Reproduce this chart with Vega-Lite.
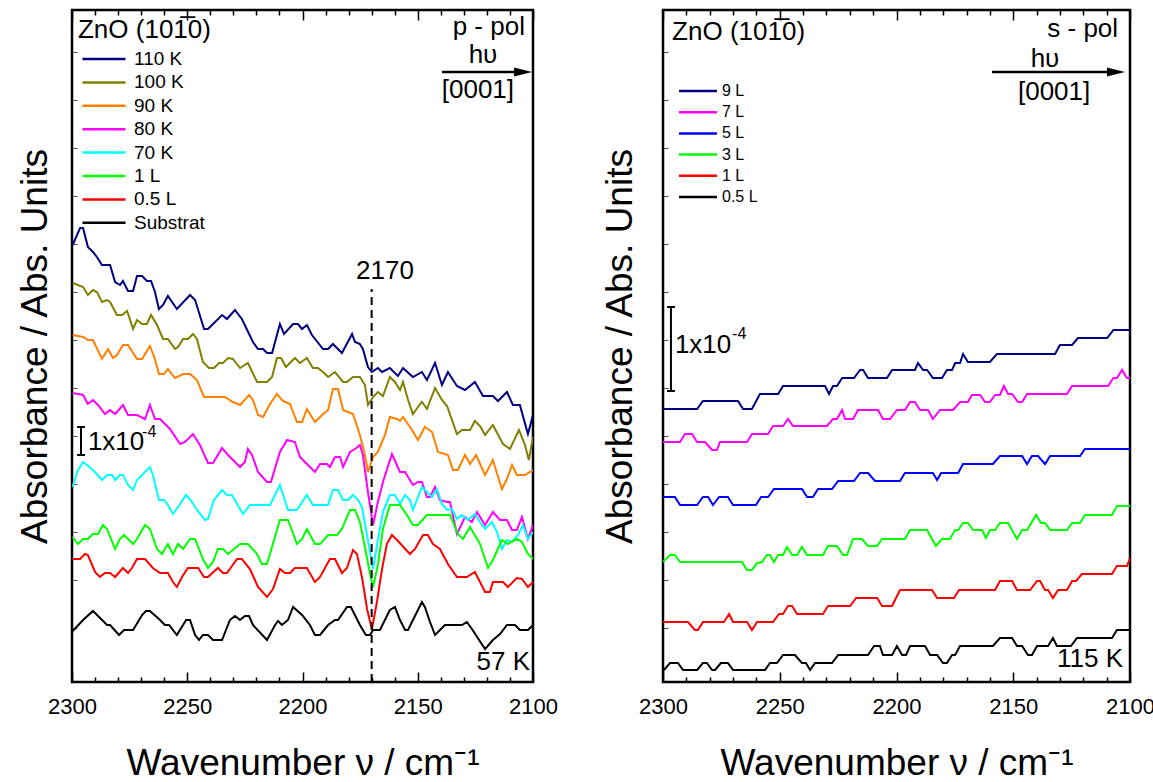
{
"$schema": "https://vega.github.io/schema/vega-lite/v6.json",
"background": "white",
"padding": {"left": 15, "top": 8, "right": 0, "bottom": 0},
"config": {"font": "Liberation Sans", "view": {"stroke": "black", "strokeWidth": 2.5}},
"spacing": 41,
"resolve": {"scale": {"color": "independent"}, "legend": {"color": "independent"}},
"datasets": {
"pL": [
{"s":"110 K","w":2299.7,"a":437},{"s":"110 K","w":2296.5,"a":454},{"s":"110 K","w":2295.2,"a":454},{"s":"110 K","w":2293.1,"a":435},{"s":"110 K","w":2290.9,"a":430},{"s":"110 K","w":2289.2,"a":425},{"s":"110 K","w":2287.0,"a":417},{"s":"110 K","w":2283.5,"a":417},{"s":"110 K","w":2281.3,"a":400},{"s":"110 K","w":2279.2,"a":397},{"s":"110 K","w":2277.9,"a":401},{"s":"110 K","w":2275.7,"a":391},{"s":"110 K","w":2273.5,"a":391},{"s":"110 K","w":2271.8,"a":406},{"s":"110 K","w":2269.6,"a":406},{"s":"110 K","w":2267.5,"a":401},{"s":"110 K","w":2265.7,"a":401},{"s":"110 K","w":2264.0,"a":390},{"s":"110 K","w":2262.3,"a":373},{"s":"110 K","w":2260.5,"a":377},{"s":"110 K","w":2258.4,"a":386},{"s":"110 K","w":2254.5,"a":373},{"s":"110 K","w":2248.8,"a":387},{"s":"110 K","w":2246.6,"a":382},{"s":"110 K","w":2242.7,"a":353},{"s":"110 K","w":2241.0,"a":353},{"s":"110 K","w":2234.9,"a":367},{"s":"110 K","w":2232.8,"a":363},{"s":"110 K","w":2229.3,"a":372},{"s":"110 K","w":2226.3,"a":363},{"s":"110 K","w":2221.5,"a":340},{"s":"110 K","w":2219.3,"a":333},{"s":"110 K","w":2217.1,"a":333},{"s":"110 K","w":2215.4,"a":329},{"s":"110 K","w":2213.2,"a":329},{"s":"110 K","w":2209.8,"a":358},{"s":"110 K","w":2208.0,"a":348},{"s":"110 K","w":2204.1,"a":358},{"s":"110 K","w":2202.0,"a":358},{"s":"110 K","w":2200.2,"a":353},{"s":"110 K","w":2198.1,"a":357},{"s":"110 K","w":2195.9,"a":347},{"s":"110 K","w":2191.1,"a":333},{"s":"110 K","w":2188.9,"a":333},{"s":"110 K","w":2186.8,"a":338},{"s":"110 K","w":2182.9,"a":329},{"s":"110 K","w":2178.5,"a":348},{"s":"110 K","w":2177.2,"a":340},{"s":"110 K","w":2175.1,"a":338},{"s":"110 K","w":2173.8,"a":333},{"s":"110 K","w":2171.6,"a":315},{"s":"110 K","w":2169.9,"a":310},{"s":"110 K","w":2167.3,"a":314},{"s":"110 K","w":2165.5,"a":310},{"s":"110 K","w":2162.1,"a":314},{"s":"110 K","w":2158.6,"a":306},{"s":"110 K","w":2156.4,"a":314},{"s":"110 K","w":2152.1,"a":305},{"s":"110 K","w":2148.2,"a":310},{"s":"110 K","w":2146.0,"a":302},{"s":"110 K","w":2142.5,"a":319},{"s":"110 K","w":2139.5,"a":297},{"s":"110 K","w":2136.9,"a":310},{"s":"110 K","w":2133.0,"a":296},{"s":"110 K","w":2129.5,"a":292},{"s":"110 K","w":2125.2,"a":300},{"s":"110 K","w":2121.7,"a":286},{"s":"110 K","w":2117.4,"a":286},{"s":"110 K","w":2115.2,"a":281},{"s":"110 K","w":2111.3,"a":290},{"s":"110 K","w":2108.7,"a":277},{"s":"110 K","w":2105.7,"a":277},{"s":"110 K","w":2102.2,"a":248},{"s":"110 K","w":2100.0,"a":267},
{"s":"100 K","w":2299.7,"a":399},{"s":"100 K","w":2295.2,"a":395},{"s":"100 K","w":2293.1,"a":387},{"s":"100 K","w":2290.9,"a":392},{"s":"100 K","w":2289.2,"a":390},{"s":"100 K","w":2287.0,"a":380},{"s":"100 K","w":2284.8,"a":382},{"s":"100 K","w":2283.5,"a":380},{"s":"100 K","w":2280.5,"a":367},{"s":"100 K","w":2278.3,"a":367},{"s":"100 K","w":2276.1,"a":371},{"s":"100 K","w":2273.5,"a":353},{"s":"100 K","w":2271.8,"a":362},{"s":"100 K","w":2269.6,"a":358},{"s":"100 K","w":2267.5,"a":358},{"s":"100 K","w":2265.7,"a":367},{"s":"100 K","w":2263.1,"a":357},{"s":"100 K","w":2260.5,"a":343},{"s":"100 K","w":2258.4,"a":343},{"s":"100 K","w":2255.3,"a":333},{"s":"100 K","w":2254.0,"a":335},{"s":"100 K","w":2251.8,"a":343},{"s":"100 K","w":2249.7,"a":343},{"s":"100 K","w":2247.5,"a":348},{"s":"100 K","w":2245.8,"a":343},{"s":"100 K","w":2243.2,"a":320},{"s":"100 K","w":2240.6,"a":314},{"s":"100 K","w":2238.4,"a":314},{"s":"100 K","w":2236.2,"a":319},{"s":"100 K","w":2234.5,"a":319},{"s":"100 K","w":2232.3,"a":324},{"s":"100 K","w":2230.2,"a":323},{"s":"100 K","w":2227.1,"a":314},{"s":"100 K","w":2223.7,"a":319},{"s":"100 K","w":2219.7,"a":300},{"s":"100 K","w":2215.4,"a":300},{"s":"100 K","w":2213.2,"a":305},{"s":"100 K","w":2211.1,"a":324},{"s":"100 K","w":2209.3,"a":324},{"s":"100 K","w":2207.2,"a":315},{"s":"100 K","w":2203.3,"a":324},{"s":"100 K","w":2201.1,"a":319},{"s":"100 K","w":2198.1,"a":324},{"s":"100 K","w":2195.5,"a":314},{"s":"100 K","w":2193.3,"a":314},{"s":"100 K","w":2191.1,"a":310},{"s":"100 K","w":2188.9,"a":305},{"s":"100 K","w":2185.9,"a":310},{"s":"100 K","w":2182.4,"a":300},{"s":"100 K","w":2180.7,"a":300},{"s":"100 K","w":2178.1,"a":305},{"s":"100 K","w":2175.1,"a":305},{"s":"100 K","w":2172.9,"a":297},{"s":"100 K","w":2171.6,"a":277},{"s":"100 K","w":2169.4,"a":285},{"s":"100 K","w":2167.3,"a":290},{"s":"100 K","w":2165.1,"a":286},{"s":"100 K","w":2162.1,"a":305},{"s":"100 K","w":2159.9,"a":300},{"s":"100 K","w":2157.7,"a":292},{"s":"100 K","w":2156.4,"a":300},{"s":"100 K","w":2154.2,"a":282},{"s":"100 K","w":2152.1,"a":268},{"s":"100 K","w":2149.9,"a":275},{"s":"100 K","w":2148.2,"a":280},{"s":"100 K","w":2146.0,"a":273},{"s":"100 K","w":2142.5,"a":294},{"s":"100 K","w":2139.5,"a":282},{"s":"100 K","w":2137.3,"a":276},{"s":"100 K","w":2133.0,"a":248},{"s":"100 K","w":2130.8,"a":252},{"s":"100 K","w":2127.3,"a":252},{"s":"100 K","w":2125.2,"a":261},{"s":"100 K","w":2123.0,"a":256},{"s":"100 K","w":2120.8,"a":247},{"s":"100 K","w":2117.4,"a":257},{"s":"100 K","w":2113.0,"a":238},{"s":"100 K","w":2110.0,"a":233},{"s":"100 K","w":2106.1,"a":252},{"s":"100 K","w":2103.5,"a":237},{"s":"100 K","w":2101.8,"a":222},{"s":"100 K","w":2100.0,"a":245},
{"s":"90 K","w":2299.7,"a":347},{"s":"90 K","w":2295.2,"a":345},{"s":"90 K","w":2293.1,"a":342},{"s":"90 K","w":2290.9,"a":342},{"s":"90 K","w":2287.0,"a":323},{"s":"90 K","w":2284.4,"a":333},{"s":"90 K","w":2282.2,"a":324},{"s":"90 K","w":2280.5,"a":327},{"s":"90 K","w":2277.9,"a":337},{"s":"90 K","w":2275.7,"a":337},{"s":"90 K","w":2271.8,"a":323},{"s":"90 K","w":2269.6,"a":323},{"s":"90 K","w":2266.2,"a":336},{"s":"90 K","w":2264.0,"a":323},{"s":"90 K","w":2262.3,"a":308},{"s":"90 K","w":2260.1,"a":308},{"s":"90 K","w":2258.4,"a":313},{"s":"90 K","w":2255.3,"a":304},{"s":"90 K","w":2251.8,"a":308},{"s":"90 K","w":2248.8,"a":308},{"s":"90 K","w":2245.8,"a":302},{"s":"90 K","w":2242.7,"a":285},{"s":"90 K","w":2233.6,"a":285},{"s":"90 K","w":2230.2,"a":280},{"s":"90 K","w":2227.1,"a":277},{"s":"90 K","w":2223.2,"a":287},{"s":"90 K","w":2221.5,"a":282},{"s":"90 K","w":2219.3,"a":267},{"s":"90 K","w":2217.1,"a":265},{"s":"90 K","w":2214.1,"a":278},{"s":"90 K","w":2211.1,"a":288},{"s":"90 K","w":2208.5,"a":281},{"s":"90 K","w":2205.4,"a":278},{"s":"90 K","w":2202.4,"a":260},{"s":"90 K","w":2200.2,"a":260},{"s":"90 K","w":2198.1,"a":273},{"s":"90 K","w":2194.6,"a":260},{"s":"90 K","w":2191.5,"a":267},{"s":"90 K","w":2188.9,"a":272},{"s":"90 K","w":2186.8,"a":293},{"s":"90 K","w":2184.6,"a":293},{"s":"90 K","w":2182.4,"a":272},{"s":"90 K","w":2178.1,"a":268},{"s":"90 K","w":2175.1,"a":247},{"s":"90 K","w":2172.9,"a":227},{"s":"90 K","w":2171.6,"a":210},{"s":"90 K","w":2169.4,"a":225},{"s":"90 K","w":2167.3,"a":230},{"s":"90 K","w":2165.5,"a":240},{"s":"90 K","w":2164.2,"a":247},{"s":"90 K","w":2162.1,"a":265},{"s":"90 K","w":2159.0,"a":263},{"s":"90 K","w":2157.7,"a":261},{"s":"90 K","w":2156.4,"a":265},{"s":"90 K","w":2152.5,"a":252},{"s":"90 K","w":2149.9,"a":242},{"s":"90 K","w":2146.9,"a":255},{"s":"90 K","w":2143.8,"a":250},{"s":"90 K","w":2141.2,"a":230},{"s":"90 K","w":2136.9,"a":227},{"s":"90 K","w":2134.7,"a":212},{"s":"90 K","w":2132.6,"a":212},{"s":"90 K","w":2129.5,"a":227},{"s":"90 K","w":2127.3,"a":218},{"s":"90 K","w":2124.7,"a":227},{"s":"90 K","w":2120.8,"a":207},{"s":"90 K","w":2117.4,"a":222},{"s":"90 K","w":2113.5,"a":193},{"s":"90 K","w":2111.3,"a":203},{"s":"90 K","w":2109.1,"a":217},{"s":"90 K","w":2107.0,"a":207},{"s":"90 K","w":2103.5,"a":207},{"s":"90 K","w":2100.0,"a":212},
{"s":"80 K","w":2299.7,"a":289},{"s":"80 K","w":2295.2,"a":287},{"s":"80 K","w":2293.1,"a":278},{"s":"80 K","w":2290.9,"a":282},{"s":"80 K","w":2288.7,"a":277},{"s":"80 K","w":2285.7,"a":268},{"s":"80 K","w":2283.5,"a":272},{"s":"80 K","w":2281.3,"a":268},{"s":"80 K","w":2277.9,"a":277},{"s":"80 K","w":2275.7,"a":267},{"s":"80 K","w":2271.8,"a":267},{"s":"80 K","w":2268.3,"a":263},{"s":"80 K","w":2266.2,"a":277},{"s":"80 K","w":2264.0,"a":263},{"s":"80 K","w":2261.8,"a":263},{"s":"80 K","w":2257.5,"a":253},{"s":"80 K","w":2253.1,"a":238},{"s":"80 K","w":2251.0,"a":240},{"s":"80 K","w":2247.5,"a":248},{"s":"80 K","w":2244.5,"a":237},{"s":"80 K","w":2241.0,"a":219},{"s":"80 K","w":2238.8,"a":219},{"s":"80 K","w":2234.9,"a":234},{"s":"80 K","w":2231.5,"a":225},{"s":"80 K","w":2227.1,"a":215},{"s":"80 K","w":2225.0,"a":220},{"s":"80 K","w":2223.7,"a":233},{"s":"80 K","w":2221.9,"a":227},{"s":"80 K","w":2219.3,"a":210},{"s":"80 K","w":2215.4,"a":200},{"s":"80 K","w":2213.7,"a":200},{"s":"80 K","w":2209.8,"a":230},{"s":"80 K","w":2206.7,"a":242},{"s":"80 K","w":2203.3,"a":240},{"s":"80 K","w":2201.1,"a":225},{"s":"80 K","w":2198.1,"a":218},{"s":"80 K","w":2194.6,"a":210},{"s":"80 K","w":2192.4,"a":218},{"s":"80 K","w":2189.4,"a":218},{"s":"80 K","w":2188.1,"a":215},{"s":"80 K","w":2185.9,"a":225},{"s":"80 K","w":2183.7,"a":225},{"s":"80 K","w":2182.4,"a":215},{"s":"80 K","w":2179.4,"a":230},{"s":"80 K","w":2177.2,"a":233},{"s":"80 K","w":2175.1,"a":237},{"s":"80 K","w":2173.8,"a":227},{"s":"80 K","w":2171.6,"a":190},{"s":"80 K","w":2169.4,"a":157},{"s":"80 K","w":2167.3,"a":180},{"s":"80 K","w":2165.1,"a":200},{"s":"80 K","w":2161.2,"a":228},{"s":"80 K","w":2157.7,"a":210},{"s":"80 K","w":2155.5,"a":210},{"s":"80 K","w":2152.1,"a":197},{"s":"80 K","w":2149.9,"a":200},{"s":"80 K","w":2148.2,"a":200},{"s":"80 K","w":2146.0,"a":185},{"s":"80 K","w":2144.7,"a":185},{"s":"80 K","w":2142.5,"a":195},{"s":"80 K","w":2140.4,"a":182},{"s":"80 K","w":2137.3,"a":180},{"s":"80 K","w":2136.0,"a":180},{"s":"80 K","w":2133.0,"a":148},{"s":"80 K","w":2129.5,"a":165},{"s":"80 K","w":2126.5,"a":160},{"s":"80 K","w":2124.3,"a":170},{"s":"80 K","w":2120.8,"a":157},{"s":"80 K","w":2117.4,"a":170},{"s":"80 K","w":2114.3,"a":162},{"s":"80 K","w":2111.3,"a":162},{"s":"80 K","w":2109.1,"a":152},{"s":"80 K","w":2107.0,"a":152},{"s":"80 K","w":2104.8,"a":165},{"s":"80 K","w":2102.2,"a":143},{"s":"80 K","w":2100.0,"a":157},
{"s":"70 K","w":2299.7,"a":195},{"s":"70 K","w":2297.8,"a":210},{"s":"70 K","w":2295.2,"a":220},{"s":"70 K","w":2290.9,"a":212},{"s":"70 K","w":2287.0,"a":202},{"s":"70 K","w":2284.8,"a":207},{"s":"70 K","w":2282.6,"a":207},{"s":"70 K","w":2281.3,"a":202},{"s":"70 K","w":2279.2,"a":207},{"s":"70 K","w":2277.9,"a":207},{"s":"70 K","w":2275.7,"a":197},{"s":"70 K","w":2273.5,"a":192},{"s":"70 K","w":2271.8,"a":202},{"s":"70 K","w":2266.2,"a":215},{"s":"70 K","w":2264.9,"a":207},{"s":"70 K","w":2262.3,"a":182},{"s":"70 K","w":2260.1,"a":182},{"s":"70 K","w":2258.4,"a":177},{"s":"70 K","w":2256.2,"a":168},{"s":"70 K","w":2254.0,"a":175},{"s":"70 K","w":2250.5,"a":187},{"s":"70 K","w":2247.9,"a":180},{"s":"70 K","w":2245.8,"a":172},{"s":"70 K","w":2242.3,"a":162},{"s":"70 K","w":2241.0,"a":163},{"s":"70 K","w":2238.4,"a":182},{"s":"70 K","w":2234.9,"a":192},{"s":"70 K","w":2232.8,"a":187},{"s":"70 K","w":2230.6,"a":187},{"s":"70 K","w":2228.4,"a":178},{"s":"70 K","w":2225.8,"a":168},{"s":"70 K","w":2222.8,"a":177},{"s":"70 K","w":2214.1,"a":177},{"s":"70 K","w":2209.8,"a":197},{"s":"70 K","w":2206.3,"a":172},{"s":"70 K","w":2202.4,"a":172},{"s":"70 K","w":2198.1,"a":187},{"s":"70 K","w":2195.5,"a":177},{"s":"70 K","w":2188.9,"a":177},{"s":"70 K","w":2186.8,"a":192},{"s":"70 K","w":2184.6,"a":192},{"s":"70 K","w":2182.4,"a":182},{"s":"70 K","w":2180.3,"a":182},{"s":"70 K","w":2178.1,"a":187},{"s":"70 K","w":2175.9,"a":182},{"s":"70 K","w":2174.2,"a":175},{"s":"70 K","w":2172.0,"a":147},{"s":"70 K","w":2169.4,"a":113},{"s":"70 K","w":2167.7,"a":137},{"s":"70 K","w":2165.1,"a":170},{"s":"70 K","w":2162.1,"a":187},{"s":"70 K","w":2159.9,"a":187},{"s":"70 K","w":2157.7,"a":178},{"s":"70 K","w":2155.5,"a":187},{"s":"70 K","w":2153.4,"a":182},{"s":"70 K","w":2152.1,"a":172},{"s":"70 K","w":2148.2,"a":195},{"s":"70 K","w":2146.0,"a":190},{"s":"70 K","w":2143.8,"a":185},{"s":"70 K","w":2141.7,"a":193},{"s":"70 K","w":2139.5,"a":178},{"s":"70 K","w":2137.3,"a":172},{"s":"70 K","w":2135.2,"a":173},{"s":"70 K","w":2133.0,"a":163},{"s":"70 K","w":2130.8,"a":167},{"s":"70 K","w":2128.2,"a":162},{"s":"70 K","w":2125.2,"a":168},{"s":"70 K","w":2123.0,"a":160},{"s":"70 K","w":2120.8,"a":153},{"s":"70 K","w":2117.8,"a":160},{"s":"70 K","w":2115.6,"a":150},{"s":"70 K","w":2113.5,"a":133},{"s":"70 K","w":2111.3,"a":142},{"s":"70 K","w":2109.1,"a":140},{"s":"70 K","w":2106.5,"a":147},{"s":"70 K","w":2104.4,"a":157},{"s":"70 K","w":2102.2,"a":143},{"s":"70 K","w":2100.0,"a":150},
{"s":"1 L","w":2299.7,"a":145},{"s":"1 L","w":2297.4,"a":138},{"s":"1 L","w":2295.2,"a":143},{"s":"1 L","w":2293.1,"a":143},{"s":"1 L","w":2290.9,"a":148},{"s":"1 L","w":2288.7,"a":148},{"s":"1 L","w":2286.6,"a":157},{"s":"1 L","w":2284.8,"a":153},{"s":"1 L","w":2281.3,"a":133},{"s":"1 L","w":2279.2,"a":143},{"s":"1 L","w":2277.4,"a":147},{"s":"1 L","w":2273.5,"a":138},{"s":"1 L","w":2271.8,"a":143},{"s":"1 L","w":2268.3,"a":157},{"s":"1 L","w":2266.2,"a":153},{"s":"1 L","w":2263.1,"a":133},{"s":"1 L","w":2261.0,"a":128},{"s":"1 L","w":2258.4,"a":138},{"s":"1 L","w":2256.2,"a":128},{"s":"1 L","w":2254.0,"a":138},{"s":"1 L","w":2251.8,"a":133},{"s":"1 L","w":2248.8,"a":143},{"s":"1 L","w":2246.6,"a":143},{"s":"1 L","w":2243.2,"a":123},{"s":"1 L","w":2241.0,"a":114},{"s":"1 L","w":2238.8,"a":120},{"s":"1 L","w":2236.7,"a":133},{"s":"1 L","w":2234.5,"a":133},{"s":"1 L","w":2232.3,"a":128},{"s":"1 L","w":2227.1,"a":138},{"s":"1 L","w":2223.7,"a":138},{"s":"1 L","w":2219.7,"a":128},{"s":"1 L","w":2217.6,"a":118},{"s":"1 L","w":2215.4,"a":118},{"s":"1 L","w":2209.8,"a":162},{"s":"1 L","w":2206.3,"a":162},{"s":"1 L","w":2202.4,"a":138},{"s":"1 L","w":2200.2,"a":143},{"s":"1 L","w":2198.1,"a":153},{"s":"1 L","w":2194.6,"a":138},{"s":"1 L","w":2192.4,"a":138},{"s":"1 L","w":2188.9,"a":147},{"s":"1 L","w":2185.0,"a":147},{"s":"1 L","w":2182.9,"a":153},{"s":"1 L","w":2179.4,"a":172},{"s":"1 L","w":2177.2,"a":172},{"s":"1 L","w":2175.1,"a":160},{"s":"1 L","w":2172.5,"a":130},{"s":"1 L","w":2170.7,"a":108},{"s":"1 L","w":2169.4,"a":95},{"s":"1 L","w":2167.3,"a":117},{"s":"1 L","w":2165.1,"a":153},{"s":"1 L","w":2162.1,"a":177},{"s":"1 L","w":2157.7,"a":177},{"s":"1 L","w":2154.7,"a":167},{"s":"1 L","w":2152.1,"a":157},{"s":"1 L","w":2149.9,"a":157},{"s":"1 L","w":2146.0,"a":167},{"s":"1 L","w":2136.0,"a":167},{"s":"1 L","w":2132.6,"a":148},{"s":"1 L","w":2130.4,"a":143},{"s":"1 L","w":2127.3,"a":155},{"s":"1 L","w":2123.0,"a":138},{"s":"1 L","w":2119.5,"a":114},{"s":"1 L","w":2117.4,"a":122},{"s":"1 L","w":2113.5,"a":142},{"s":"1 L","w":2110.9,"a":138},{"s":"1 L","w":2107.0,"a":143},{"s":"1 L","w":2104.8,"a":140},{"s":"1 L","w":2102.2,"a":128},{"s":"1 L","w":2100.0,"a":123},
{"s":"0.5 L","w":2299.7,"a":123},{"s":"0.5 L","w":2296.5,"a":123},{"s":"0.5 L","w":2294.4,"a":128},{"s":"0.5 L","w":2293.1,"a":127},{"s":"0.5 L","w":2290.0,"a":110},{"s":"0.5 L","w":2287.9,"a":105},{"s":"0.5 L","w":2285.7,"a":109},{"s":"0.5 L","w":2283.5,"a":109},{"s":"0.5 L","w":2281.3,"a":105},{"s":"0.5 L","w":2277.9,"a":114},{"s":"0.5 L","w":2275.7,"a":109},{"s":"0.5 L","w":2274.0,"a":114},{"s":"0.5 L","w":2271.8,"a":123},{"s":"0.5 L","w":2268.3,"a":123},{"s":"0.5 L","w":2264.9,"a":114},{"s":"0.5 L","w":2261.8,"a":109},{"s":"0.5 L","w":2258.4,"a":109},{"s":"0.5 L","w":2256.2,"a":100},{"s":"0.5 L","w":2254.5,"a":95},{"s":"0.5 L","w":2252.3,"a":105},{"s":"0.5 L","w":2249.7,"a":114},{"s":"0.5 L","w":2245.3,"a":114},{"s":"0.5 L","w":2242.7,"a":105},{"s":"0.5 L","w":2241.0,"a":105},{"s":"0.5 L","w":2236.7,"a":114},{"s":"0.5 L","w":2234.5,"a":109},{"s":"0.5 L","w":2232.8,"a":109},{"s":"0.5 L","w":2228.4,"a":123},{"s":"0.5 L","w":2226.3,"a":123},{"s":"0.5 L","w":2222.8,"a":113},{"s":"0.5 L","w":2219.3,"a":95},{"s":"0.5 L","w":2215.4,"a":85},{"s":"0.5 L","w":2212.8,"a":93},{"s":"0.5 L","w":2209.8,"a":113},{"s":"0.5 L","w":2207.6,"a":109},{"s":"0.5 L","w":2205.4,"a":109},{"s":"0.5 L","w":2203.3,"a":114},{"s":"0.5 L","w":2198.1,"a":114},{"s":"0.5 L","w":2194.6,"a":100},{"s":"0.5 L","w":2192.4,"a":105},{"s":"0.5 L","w":2188.1,"a":123},{"s":"0.5 L","w":2185.9,"a":123},{"s":"0.5 L","w":2182.9,"a":109},{"s":"0.5 L","w":2180.7,"a":114},{"s":"0.5 L","w":2178.1,"a":132},{"s":"0.5 L","w":2176.4,"a":128},{"s":"0.5 L","w":2174.2,"a":105},{"s":"0.5 L","w":2172.0,"a":73},{"s":"0.5 L","w":2169.9,"a":53},{"s":"0.5 L","w":2167.7,"a":80},{"s":"0.5 L","w":2165.5,"a":113},{"s":"0.5 L","w":2163.4,"a":138},{"s":"0.5 L","w":2161.2,"a":147},{"s":"0.5 L","w":2159.0,"a":142},{"s":"0.5 L","w":2153.4,"a":128},{"s":"0.5 L","w":2151.2,"a":133},{"s":"0.5 L","w":2147.7,"a":147},{"s":"0.5 L","w":2145.6,"a":147},{"s":"0.5 L","w":2143.4,"a":138},{"s":"0.5 L","w":2140.4,"a":133},{"s":"0.5 L","w":2136.9,"a":118},{"s":"0.5 L","w":2133.0,"a":105},{"s":"0.5 L","w":2128.7,"a":105},{"s":"0.5 L","w":2125.2,"a":110},{"s":"0.5 L","w":2120.8,"a":90},{"s":"0.5 L","w":2118.7,"a":90},{"s":"0.5 L","w":2117.4,"a":100},{"s":"0.5 L","w":2113.0,"a":100},{"s":"0.5 L","w":2110.9,"a":95},{"s":"0.5 L","w":2107.0,"a":104},{"s":"0.5 L","w":2104.8,"a":103},{"s":"0.5 L","w":2102.2,"a":95},{"s":"0.5 L","w":2100.0,"a":100},
{"s":"Substrat","w":2299.7,"a":51},{"s":"Substrat","w":2295.2,"a":62},{"s":"Substrat","w":2290.9,"a":71},{"s":"Substrat","w":2284.8,"a":57},{"s":"Substrat","w":2283.5,"a":57},{"s":"Substrat","w":2279.6,"a":47},{"s":"Substrat","w":2277.4,"a":52},{"s":"Substrat","w":2273.5,"a":52},{"s":"Substrat","w":2269.6,"a":67},{"s":"Substrat","w":2267.9,"a":71},{"s":"Substrat","w":2266.2,"a":71},{"s":"Substrat","w":2261.8,"a":62},{"s":"Substrat","w":2259.7,"a":57},{"s":"Substrat","w":2257.9,"a":57},{"s":"Substrat","w":2254.5,"a":47},{"s":"Substrat","w":2250.5,"a":62},{"s":"Substrat","w":2248.8,"a":62},{"s":"Substrat","w":2246.6,"a":47},{"s":"Substrat","w":2244.9,"a":42},{"s":"Substrat","w":2243.2,"a":47},{"s":"Substrat","w":2241.0,"a":47},{"s":"Substrat","w":2238.8,"a":42},{"s":"Substrat","w":2234.9,"a":42},{"s":"Substrat","w":2231.5,"a":62},{"s":"Substrat","w":2229.3,"a":66},{"s":"Substrat","w":2227.1,"a":62},{"s":"Substrat","w":2225.0,"a":66},{"s":"Substrat","w":2223.2,"a":66},{"s":"Substrat","w":2221.5,"a":57},{"s":"Substrat","w":2215.4,"a":42},{"s":"Substrat","w":2211.9,"a":57},{"s":"Substrat","w":2210.6,"a":61},{"s":"Substrat","w":2208.9,"a":57},{"s":"Substrat","w":2206.3,"a":62},{"s":"Substrat","w":2204.1,"a":75},{"s":"Substrat","w":2200.2,"a":67},{"s":"Substrat","w":2196.8,"a":57},{"s":"Substrat","w":2194.6,"a":47},{"s":"Substrat","w":2192.4,"a":47},{"s":"Substrat","w":2188.9,"a":57},{"s":"Substrat","w":2185.9,"a":62},{"s":"Substrat","w":2184.6,"a":62},{"s":"Substrat","w":2180.7,"a":75},{"s":"Substrat","w":2179.0,"a":75},{"s":"Substrat","w":2175.1,"a":57},{"s":"Substrat","w":2172.5,"a":47},{"s":"Substrat","w":2170.7,"a":47},{"s":"Substrat","w":2169.4,"a":52},{"s":"Substrat","w":2166.4,"a":52},{"s":"Substrat","w":2162.1,"a":72},{"s":"Substrat","w":2159.9,"a":75},{"s":"Substrat","w":2157.7,"a":62},{"s":"Substrat","w":2155.5,"a":52},{"s":"Substrat","w":2154.2,"a":52},{"s":"Substrat","w":2152.1,"a":62},{"s":"Substrat","w":2148.2,"a":80},{"s":"Substrat","w":2146.9,"a":75},{"s":"Substrat","w":2144.7,"a":60},{"s":"Substrat","w":2142.5,"a":47},{"s":"Substrat","w":2138.2,"a":57},{"s":"Substrat","w":2130.8,"a":57},{"s":"Substrat","w":2128.7,"a":60},{"s":"Substrat","w":2126.5,"a":53},{"s":"Substrat","w":2120.8,"a":33},{"s":"Substrat","w":2117.4,"a":42},{"s":"Substrat","w":2114.3,"a":48},{"s":"Substrat","w":2111.3,"a":57},{"s":"Substrat","w":2107.8,"a":57},{"s":"Substrat","w":2105.7,"a":52},{"s":"Substrat","w":2102.2,"a":52},{"s":"Substrat","w":2100.0,"a":57}
],
"pR": [
{"s":"9 L","w":2300.0,"a":273},{"s":"9 L","w":2285.4,"a":273},{"s":"9 L","w":2282.9,"a":281},{"s":"9 L","w":2267.9,"a":281},{"s":"9 L","w":2265.7,"a":273},{"s":"9 L","w":2261.9,"a":273},{"s":"9 L","w":2258.5,"a":288},{"s":"9 L","w":2250.7,"a":288},{"s":"9 L","w":2248.6,"a":296},{"s":"9 L","w":2230.6,"a":296},{"s":"9 L","w":2228.9,"a":288},{"s":"9 L","w":2227.2,"a":296},{"s":"9 L","w":2225.5,"a":296},{"s":"9 L","w":2223.3,"a":304},{"s":"9 L","w":2218.2,"a":304},{"s":"9 L","w":2215.6,"a":312},{"s":"9 L","w":2214.3,"a":312},{"s":"9 L","w":2212.2,"a":304},{"s":"9 L","w":2204.1,"a":304},{"s":"9 L","w":2201.9,"a":312},{"s":"9 L","w":2192.1,"a":312},{"s":"9 L","w":2190.8,"a":319},{"s":"9 L","w":2188.6,"a":312},{"s":"9 L","w":2186.9,"a":312},{"s":"9 L","w":2184.4,"a":304},{"s":"9 L","w":2180.5,"a":304},{"s":"9 L","w":2178.4,"a":312},{"s":"9 L","w":2176.2,"a":312},{"s":"9 L","w":2174.9,"a":319},{"s":"9 L","w":2172.8,"a":319},{"s":"9 L","w":2171.5,"a":328},{"s":"9 L","w":2169.4,"a":320},{"s":"9 L","w":2160.0,"a":320},{"s":"9 L","w":2157.0,"a":328},{"s":"9 L","w":2132.1,"a":328},{"s":"9 L","w":2130.0,"a":337},{"s":"9 L","w":2124.8,"a":337},{"s":"9 L","w":2122.3,"a":344},{"s":"9 L","w":2109.8,"a":344},{"s":"9 L","w":2107.1,"a":352},{"s":"9 L","w":2100.0,"a":352},
{"s":"7 L","w":2300.0,"a":240},{"s":"7 L","w":2292.7,"a":240},{"s":"7 L","w":2290.6,"a":248},{"s":"7 L","w":2287.6,"a":248},{"s":"7 L","w":2285.4,"a":240},{"s":"7 L","w":2282.0,"a":240},{"s":"7 L","w":2279.0,"a":232},{"s":"7 L","w":2276.9,"a":232},{"s":"7 L","w":2275.6,"a":240},{"s":"7 L","w":2264.0,"a":240},{"s":"7 L","w":2261.9,"a":248},{"s":"7 L","w":2255.0,"a":248},{"s":"7 L","w":2252.9,"a":256},{"s":"7 L","w":2248.6,"a":256},{"s":"7 L","w":2246.5,"a":263},{"s":"7 L","w":2244.3,"a":256},{"s":"7 L","w":2229.8,"a":256},{"s":"7 L","w":2227.2,"a":263},{"s":"7 L","w":2225.5,"a":263},{"s":"7 L","w":2223.3,"a":272},{"s":"7 L","w":2222.0,"a":263},{"s":"7 L","w":2218.6,"a":263},{"s":"7 L","w":2216.5,"a":272},{"s":"7 L","w":2207.9,"a":272},{"s":"7 L","w":2205.8,"a":263},{"s":"7 L","w":2202.8,"a":263},{"s":"7 L","w":2199.8,"a":272},{"s":"7 L","w":2196.4,"a":272},{"s":"7 L","w":2194.2,"a":280},{"s":"7 L","w":2192.1,"a":280},{"s":"7 L","w":2190.0,"a":272},{"s":"7 L","w":2186.5,"a":272},{"s":"7 L","w":2184.4,"a":263},{"s":"7 L","w":2181.4,"a":272},{"s":"7 L","w":2175.8,"a":272},{"s":"7 L","w":2172.8,"a":280},{"s":"7 L","w":2169.4,"a":280},{"s":"7 L","w":2167.7,"a":287},{"s":"7 L","w":2164.2,"a":287},{"s":"7 L","w":2162.1,"a":280},{"s":"7 L","w":2160.0,"a":280},{"s":"7 L","w":2157.8,"a":287},{"s":"7 L","w":2155.7,"a":287},{"s":"7 L","w":2154.0,"a":296},{"s":"7 L","w":2152.2,"a":288},{"s":"7 L","w":2150.5,"a":288},{"s":"7 L","w":2148.0,"a":280},{"s":"7 L","w":2146.2,"a":280},{"s":"7 L","w":2144.1,"a":288},{"s":"7 L","w":2127.0,"a":288},{"s":"7 L","w":2124.8,"a":296},{"s":"7 L","w":2109.4,"a":296},{"s":"7 L","w":2107.1,"a":304},{"s":"7 L","w":2105.6,"a":304},{"s":"7 L","w":2103.4,"a":312},{"s":"7 L","w":2101.3,"a":304},{"s":"7 L","w":2100.0,"a":304},
{"s":"5 L","w":2300.0,"a":185},{"s":"5 L","w":2294.9,"a":185},{"s":"5 L","w":2292.7,"a":177},{"s":"5 L","w":2285.4,"a":177},{"s":"5 L","w":2282.9,"a":185},{"s":"5 L","w":2280.7,"a":185},{"s":"5 L","w":2278.6,"a":177},{"s":"5 L","w":2276.0,"a":185},{"s":"5 L","w":2272.2,"a":185},{"s":"5 L","w":2270.0,"a":177},{"s":"5 L","w":2260.2,"a":177},{"s":"5 L","w":2258.0,"a":185},{"s":"5 L","w":2255.0,"a":185},{"s":"5 L","w":2252.5,"a":193},{"s":"5 L","w":2240.5,"a":193},{"s":"5 L","w":2238.3,"a":185},{"s":"5 L","w":2235.8,"a":185},{"s":"5 L","w":2233.6,"a":193},{"s":"5 L","w":2227.6,"a":193},{"s":"5 L","w":2225.0,"a":201},{"s":"5 L","w":2218.2,"a":201},{"s":"5 L","w":2215.6,"a":209},{"s":"5 L","w":2212.2,"a":209},{"s":"5 L","w":2209.2,"a":201},{"s":"5 L","w":2198.5,"a":201},{"s":"5 L","w":2196.4,"a":209},{"s":"5 L","w":2184.4,"a":209},{"s":"5 L","w":2182.6,"a":202},{"s":"5 L","w":2180.9,"a":209},{"s":"5 L","w":2173.6,"a":209},{"s":"5 L","w":2171.5,"a":218},{"s":"5 L","w":2158.7,"a":218},{"s":"5 L","w":2155.7,"a":226},{"s":"5 L","w":2146.2,"a":226},{"s":"5 L","w":2144.1,"a":218},{"s":"5 L","w":2142.0,"a":226},{"s":"5 L","w":2139.4,"a":226},{"s":"5 L","w":2136.4,"a":218},{"s":"5 L","w":2134.2,"a":226},{"s":"5 L","w":2121.4,"a":226},{"s":"5 L","w":2119.3,"a":233},{"s":"5 L","w":2100.0,"a":233},
{"s":"3 L","w":2300.0,"a":120},{"s":"3 L","w":2297.0,"a":127},{"s":"3 L","w":2294.9,"a":127},{"s":"3 L","w":2292.7,"a":120},{"s":"3 L","w":2266.2,"a":120},{"s":"3 L","w":2264.0,"a":112},{"s":"3 L","w":2261.9,"a":112},{"s":"3 L","w":2259.7,"a":119},{"s":"3 L","w":2257.6,"a":120},{"s":"3 L","w":2255.5,"a":127},{"s":"3 L","w":2254.2,"a":127},{"s":"3 L","w":2252.5,"a":120},{"s":"3 L","w":2250.7,"a":127},{"s":"3 L","w":2248.6,"a":127},{"s":"3 L","w":2246.9,"a":135},{"s":"3 L","w":2244.7,"a":127},{"s":"3 L","w":2242.6,"a":127},{"s":"3 L","w":2240.5,"a":135},{"s":"3 L","w":2238.3,"a":127},{"s":"3 L","w":2231.5,"a":127},{"s":"3 L","w":2229.3,"a":136},{"s":"3 L","w":2225.5,"a":136},{"s":"3 L","w":2222.9,"a":127},{"s":"3 L","w":2221.2,"a":127},{"s":"3 L","w":2218.6,"a":143},{"s":"3 L","w":2214.8,"a":143},{"s":"3 L","w":2212.2,"a":136},{"s":"3 L","w":2208.3,"a":136},{"s":"3 L","w":2206.2,"a":143},{"s":"3 L","w":2196.4,"a":143},{"s":"3 L","w":2194.2,"a":152},{"s":"3 L","w":2186.9,"a":152},{"s":"3 L","w":2184.8,"a":143},{"s":"3 L","w":2183.1,"a":136},{"s":"3 L","w":2180.5,"a":143},{"s":"3 L","w":2177.1,"a":143},{"s":"3 L","w":2174.9,"a":152},{"s":"3 L","w":2173.6,"a":152},{"s":"3 L","w":2171.5,"a":159},{"s":"3 L","w":2169.4,"a":159},{"s":"3 L","w":2167.2,"a":152},{"s":"3 L","w":2163.4,"a":152},{"s":"3 L","w":2161.7,"a":144},{"s":"3 L","w":2160.0,"a":152},{"s":"3 L","w":2157.8,"a":152},{"s":"3 L","w":2155.7,"a":159},{"s":"3 L","w":2152.2,"a":159},{"s":"3 L","w":2148.4,"a":143},{"s":"3 L","w":2146.2,"a":152},{"s":"3 L","w":2144.1,"a":152},{"s":"3 L","w":2140.2,"a":167},{"s":"3 L","w":2138.1,"a":159},{"s":"3 L","w":2136.4,"a":159},{"s":"3 L","w":2134.2,"a":152},{"s":"3 L","w":2127.0,"a":152},{"s":"3 L","w":2124.8,"a":159},{"s":"3 L","w":2121.4,"a":159},{"s":"3 L","w":2119.3,"a":167},{"s":"3 L","w":2107.7,"a":167},{"s":"3 L","w":2105.6,"a":176},{"s":"3 L","w":2100.0,"a":176},
{"s":"1 L","w":2300.0,"a":60},{"s":"1 L","w":2289.3,"a":60},{"s":"1 L","w":2286.3,"a":52},{"s":"1 L","w":2285.0,"a":52},{"s":"1 L","w":2282.9,"a":60},{"s":"1 L","w":2273.9,"a":60},{"s":"1 L","w":2271.7,"a":68},{"s":"1 L","w":2270.0,"a":60},{"s":"1 L","w":2264.0,"a":60},{"s":"1 L","w":2261.9,"a":52},{"s":"1 L","w":2259.7,"a":60},{"s":"1 L","w":2252.9,"a":60},{"s":"1 L","w":2250.3,"a":68},{"s":"1 L","w":2248.6,"a":68},{"s":"1 L","w":2246.5,"a":76},{"s":"1 L","w":2244.7,"a":76},{"s":"1 L","w":2242.6,"a":68},{"s":"1 L","w":2231.5,"a":68},{"s":"1 L","w":2229.3,"a":76},{"s":"1 L","w":2219.9,"a":76},{"s":"1 L","w":2217.3,"a":84},{"s":"1 L","w":2208.3,"a":84},{"s":"1 L","w":2206.2,"a":76},{"s":"1 L","w":2201.9,"a":76},{"s":"1 L","w":2198.5,"a":92},{"s":"1 L","w":2184.8,"a":92},{"s":"1 L","w":2182.6,"a":84},{"s":"1 L","w":2175.4,"a":84},{"s":"1 L","w":2173.2,"a":92},{"s":"1 L","w":2157.8,"a":92},{"s":"1 L","w":2155.7,"a":101},{"s":"1 L","w":2150.5,"a":101},{"s":"1 L","w":2148.4,"a":92},{"s":"1 L","w":2142.8,"a":92},{"s":"1 L","w":2139.8,"a":101},{"s":"1 L","w":2138.5,"a":101},{"s":"1 L","w":2136.4,"a":92},{"s":"1 L","w":2135.1,"a":92},{"s":"1 L","w":2133.0,"a":84},{"s":"1 L","w":2130.8,"a":92},{"s":"1 L","w":2127.0,"a":92},{"s":"1 L","w":2124.8,"a":101},{"s":"1 L","w":2123.1,"a":101},{"s":"1 L","w":2120.6,"a":108},{"s":"1 L","w":2107.7,"a":108},{"s":"1 L","w":2105.6,"a":116},{"s":"1 L","w":2101.3,"a":116},{"s":"1 L","w":2100.0,"a":124},
{"s":"0.5 L","w":2300.0,"a":11},{"s":"0.5 L","w":2297.0,"a":19},{"s":"0.5 L","w":2293.6,"a":19},{"s":"0.5 L","w":2291.4,"a":12},{"s":"0.5 L","w":2285.4,"a":12},{"s":"0.5 L","w":2282.9,"a":19},{"s":"0.5 L","w":2281.2,"a":19},{"s":"0.5 L","w":2279.0,"a":12},{"s":"0.5 L","w":2277.7,"a":12},{"s":"0.5 L","w":2275.2,"a":19},{"s":"0.5 L","w":2272.2,"a":19},{"s":"0.5 L","w":2270.0,"a":12},{"s":"0.5 L","w":2256.3,"a":12},{"s":"0.5 L","w":2254.2,"a":19},{"s":"0.5 L","w":2251.2,"a":19},{"s":"0.5 L","w":2248.6,"a":27},{"s":"0.5 L","w":2243.5,"a":27},{"s":"0.5 L","w":2240.5,"a":19},{"s":"0.5 L","w":2238.8,"a":19},{"s":"0.5 L","w":2237.0,"a":12},{"s":"0.5 L","w":2234.9,"a":19},{"s":"0.5 L","w":2227.6,"a":19},{"s":"0.5 L","w":2225.0,"a":27},{"s":"0.5 L","w":2212.2,"a":27},{"s":"0.5 L","w":2209.6,"a":36},{"s":"0.5 L","w":2207.1,"a":36},{"s":"0.5 L","w":2205.8,"a":27},{"s":"0.5 L","w":2201.9,"a":27},{"s":"0.5 L","w":2199.8,"a":36},{"s":"0.5 L","w":2197.6,"a":27},{"s":"0.5 L","w":2195.9,"a":27},{"s":"0.5 L","w":2194.2,"a":36},{"s":"0.5 L","w":2187.8,"a":36},{"s":"0.5 L","w":2185.6,"a":27},{"s":"0.5 L","w":2182.6,"a":27},{"s":"0.5 L","w":2180.1,"a":19},{"s":"0.5 L","w":2178.4,"a":19},{"s":"0.5 L","w":2176.2,"a":27},{"s":"0.5 L","w":2174.9,"a":27},{"s":"0.5 L","w":2172.8,"a":36},{"s":"0.5 L","w":2158.7,"a":36},{"s":"0.5 L","w":2155.7,"a":44},{"s":"0.5 L","w":2150.5,"a":44},{"s":"0.5 L","w":2148.4,"a":36},{"s":"0.5 L","w":2146.2,"a":36},{"s":"0.5 L","w":2143.7,"a":27},{"s":"0.5 L","w":2142.0,"a":27},{"s":"0.5 L","w":2139.8,"a":36},{"s":"0.5 L","w":2135.1,"a":36},{"s":"0.5 L","w":2133.0,"a":44},{"s":"0.5 L","w":2131.3,"a":36},{"s":"0.5 L","w":2125.3,"a":36},{"s":"0.5 L","w":2122.7,"a":44},{"s":"0.5 L","w":2107.7,"a":44},{"s":"0.5 L","w":2105.6,"a":52},{"s":"0.5 L","w":2100.0,"a":52}
]
},
"hconcat": [
{
"width": 461, "height": 672,
"resolve": {"axis": {"x": "independent"}},
"layer": [
{"data": {"name": "pL"},
 "mark": {"type": "line", "strokeWidth": 2, "clip": true},
 "encoding": {
  "x": {"field": "w", "type": "quantitative", "scale": {"domain": [2100, 2300], "reverse": true, "nice": false, "zero": false},
        "axis": {"orient": "bottom", "values": [2100,2110,2120,2130,2140,2150,2160,2170,2180,2190,2200,2210,2220,2230,2240,2250,2260,2270,2280,2290,2300],
                 "format": "d", "labelExpr": "datum.value % 50 === 0 ? datum.label : ''", "labelFlush": false, "labelOverlap": false,
                 "tickSize": {"condition": {"test": "datum.value % 50 === 0", "value": -10}, "value": -5}, "tickColor": "black", "tickWidth": 1.5,
                 "domain": false, "grid": false, "labelFontSize": 22, "labelColor": "black", "labelPadding": 24,
                 "title": "Wavenumber ν / cm⁻¹", "titleFontSize": 37, "titleFontWeight": "normal", "titleColor": "black", "titlePadding": 23}},
  "y": {"field": "a", "type": "quantitative", "scale": {"domain": [0, 672], "nice": false, "zero": false},
        "axis": {"orient": "left", "values": [54,102,150,198,246,294,342,390,438,486,534,582,630], "tickSize": -5, "tickColor": "#555", "tickWidth": 1,
                 "labels": false, "domain": false, "grid": false,
                 "title": "Absorbance / Abs. Units", "titleFontSize": 37, "titleFontWeight": "normal", "titleColor": "black", "titlePadding": 17}},
  "color": {"field": "s", "type": "nominal",
            "scale": {"domain": ["110 K","100 K","90 K","80 K","70 K","1 L","0.5 L","Substrat"], "range": ["#000080","#808000","#FF8000","#FF00FF","#00FFFF","#00FF00","#FF0000","#000000"]},
            "legend": {"orient": "none", "legendX": 10.5, "legendY": 39.5, "title": null, "symbolType": "M-4,0H4", "symbolSize": 116, "symbolStrokeWidth": 2.5,
                       "symbolOffset": 12, "labelOffset": 20.5, "labelFontSize": 19, "labelColor": "black", "rowPadding": 3.4, "padding": 0}}
 }},
{"data": {"values": [{"w": 2170, "a0": 0, "a1": 393}]},
 "mark": {"type": "rule", "strokeDash": [8, 5], "strokeWidth": 2, "color": "black"},
 "encoding": {
  "x": {"field": "w", "type": "quantitative", "axis": {"orient": "top", "values": [2100,2110,2120,2130,2140,2150,2160,2170,2180,2190,2200,2210,2220,2230,2240,2250,2260,2270,2280,2290,2300], "labels": false, "title": null, "domain": false, "grid": false,
        "tickSize": {"condition": {"test": "datum.value % 50 === 0", "value": -10}, "value": -5}, "tickColor": "black", "tickWidth": 1.5}},
  "y": {"field": "a0", "type": "quantitative"},
  "y2": {"field": "a1"}
 }},
{"data": {"values": [{"w": 2296.1, "a0": 227, "a1": 255}]},
 "mark": {"type": "rule", "strokeWidth": 2, "color": "black"},
 "encoding": {"x": {"field": "w", "type": "quantitative", "axis": null}, "y": {"field": "a0", "type": "quantitative"}, "y2": {"field": "a1"}}},
{"data": {"values": [{"w0": 2297.8, "w1": 2294.4, "a": 227}, {"w0": 2297.8, "w1": 2294.4, "a": 255}]},
 "mark": {"type": "rule", "strokeWidth": 2, "color": "black"},
 "encoding": {"x": {"field": "w0", "type": "quantitative", "axis": null}, "x2": {"field": "w1"}, "y": {"field": "a", "type": "quantitative"}}},
{"data": {"values": [{"w0": 2139.5, "w1": 2105, "a": 610}]},
 "mark": {"type": "rule", "strokeWidth": 2.5, "color": "black"},
 "encoding": {"x": {"field": "w0", "type": "quantitative", "axis": null}, "x2": {"field": "w1"}, "y": {"field": "a", "type": "quantitative"}}},
{"data": {"values": [{"w": 2104.3, "a": 610}]},
 "mark": {"type": "point", "shape": "M-1,-0.5L1,0L-1,0.5Z", "size": 324, "filled": true, "color": "black", "opacity": 1},
 "encoding": {"x": {"field": "w", "type": "quantitative", "axis": null}, "y": {"field": "a", "type": "quantitative"}}},
{"data": {"values": [{"w": 2297.4, "a": 652, "t": "ZnO (101̅0)"}, {"w": 2293.1, "a": 240, "t": "1x10"}]},
 "mark": {"type": "text", "align": "left", "baseline": "middle", "fontSize": 26, "color": "black"},
 "encoding": {"x": {"field": "w", "type": "quantitative", "axis": null}, "y": {"field": "a", "type": "quantitative"}, "text": {"field": "t"}}},
{"data": {"values": [{"w": 2269.6, "a": 250, "t": "-4"}]},
 "mark": {"type": "text", "align": "left", "baseline": "middle", "fontSize": 16, "color": "black"},
 "encoding": {"x": {"field": "w", "type": "quantitative", "axis": null}, "y": {"field": "a", "type": "quantitative"}, "text": {"field": "t"}}},
{"data": {"values": [{"w": 2103.5, "a": 655, "t": "p - pol"}, {"w": 2101.3, "a": 20, "t": "57 K"}]},
 "mark": {"type": "text", "align": "right", "baseline": "middle", "fontSize": 26, "color": "black"},
 "encoding": {"x": {"field": "w", "type": "quantitative", "axis": null}, "y": {"field": "a", "type": "quantitative"}, "text": {"field": "t"}}},
{"data": {"values": [{"w": 2121.7, "a": 627, "t": "hυ"}, {"w": 2123.9, "a": 592, "t": "[0001]"}, {"w": 2164.2, "a": 411, "t": "2170"}]},
 "mark": {"type": "text", "align": "center", "baseline": "middle", "fontSize": 26, "color": "black"},
 "encoding": {"x": {"field": "w", "type": "quantitative", "axis": null}, "y": {"field": "a", "type": "quantitative"}, "text": {"field": "t"}}}
]
},
{
"width": 467, "height": 672,
"resolve": {"axis": {"x": "independent"}},
"layer": [
{"data": {"name": "pR"},
 "mark": {"type": "line", "strokeWidth": 2, "clip": true},
 "encoding": {
  "x": {"field": "w", "type": "quantitative", "scale": {"domain": [2100, 2300], "reverse": true, "nice": false, "zero": false},
        "axis": {"orient": "bottom", "values": [2100,2110,2120,2130,2140,2150,2160,2170,2180,2190,2200,2210,2220,2230,2240,2250,2260,2270,2280,2290,2300],
                 "format": "d", "labelExpr": "datum.value % 50 === 0 ? datum.label : ''", "labelFlush": false, "labelOverlap": false,
                 "tickSize": {"condition": {"test": "datum.value % 50 === 0", "value": -10}, "value": -5}, "tickColor": "black", "tickWidth": 1.5,
                 "domain": false, "grid": false, "labelFontSize": 22, "labelColor": "black", "labelPadding": 24,
                 "title": "Wavenumber ν / cm⁻¹", "titleFontSize": 37, "titleFontWeight": "normal", "titleColor": "black", "titlePadding": 23}},
  "y": {"field": "a", "type": "quantitative", "scale": {"domain": [0, 672], "nice": false, "zero": false},
        "axis": {"orient": "left", "values": [54,102,150,198,246,294,342,390,438,486,534,582,630], "tickSize": -5, "tickColor": "#555", "tickWidth": 1,
                 "labels": false, "domain": false, "grid": false,
                 "title": "Absorbance / Abs. Units", "titleFontSize": 37, "titleFontWeight": "normal", "titleColor": "black", "titlePadding": 23}},
  "color": {"field": "s", "type": "nominal",
            "scale": {"domain": ["9 L","7 L","5 L","3 L","1 L","0.5 L"], "range": ["#000080","#FF00FF","#0000FF","#00FF00","#FF0000","#000000"]},
            "legend": {"orient": "none", "legendX": 16, "legendY": 73, "title": null, "symbolType": "M-4,0H4", "symbolSize": 90, "symbolStrokeWidth": 2.5,
                       "symbolOffset": 11, "labelOffset": 16, "labelFontSize": 16, "labelColor": "black", "rowPadding": 5.2, "padding": 0}}
 }},
{"data": {"values": [{"w": 2200}]},
 "mark": {"type": "rule", "opacity": 0},
 "encoding": {
  "x": {"field": "w", "type": "quantitative", "axis": {"orient": "top", "values": [2100,2110,2120,2130,2140,2150,2160,2170,2180,2190,2200,2210,2220,2230,2240,2250,2260,2270,2280,2290,2300], "labels": false, "title": null, "domain": false, "grid": false,
        "tickSize": {"condition": {"test": "datum.value % 50 === 0", "value": -10}, "value": -5}, "tickColor": "black", "tickWidth": 1.5}}
 }},
{"data": {"values": [{"w": 2296.6, "a0": 291, "a1": 375}]},
 "mark": {"type": "rule", "strokeWidth": 2, "color": "black"},
 "encoding": {"x": {"field": "w", "type": "quantitative", "axis": null}, "y": {"field": "a0", "type": "quantitative"}, "y2": {"field": "a1"}}},
{"data": {"values": [{"w0": 2298.3, "w1": 2294.9, "a": 291}, {"w0": 2298.3, "w1": 2294.9, "a": 375}]},
 "mark": {"type": "rule", "strokeWidth": 2, "color": "black"},
 "encoding": {"x": {"field": "w0", "type": "quantitative", "axis": null}, "x2": {"field": "w1"}, "y": {"field": "a", "type": "quantitative"}}},
{"data": {"values": [{"w0": 2159.1, "w1": 2107, "a": 610}]},
 "mark": {"type": "rule", "strokeWidth": 2.5, "color": "black"},
 "encoding": {"x": {"field": "w0", "type": "quantitative", "axis": null}, "x2": {"field": "w1"}, "y": {"field": "a", "type": "quantitative"}}},
{"data": {"values": [{"w": 2106.0, "a": 610}]},
 "mark": {"type": "point", "shape": "M-1,-0.5L1,0L-1,0.5Z", "size": 324, "filled": true, "color": "black", "opacity": 1},
 "encoding": {"x": {"field": "w", "type": "quantitative", "axis": null}, "y": {"field": "a", "type": "quantitative"}}},
{"data": {"values": [{"w": 2296.1, "a": 650, "t": "ZnO (101̅0)"}, {"w": 2294.9, "a": 337, "t": "1x10"}]},
 "mark": {"type": "text", "align": "left", "baseline": "middle", "fontSize": 26, "color": "black"},
 "encoding": {"x": {"field": "w", "type": "quantitative", "axis": null}, "y": {"field": "a", "type": "quantitative"}, "text": {"field": "t"}}},
{"data": {"values": [{"w": 2270.4, "a": 348, "t": "-4"}]},
 "mark": {"type": "text", "align": "left", "baseline": "middle", "fontSize": 16, "color": "black"},
 "encoding": {"x": {"field": "w", "type": "quantitative", "axis": null}, "y": {"field": "a", "type": "quantitative"}, "text": {"field": "t"}}},
{"data": {"values": [{"w": 2105.1, "a": 653, "t": "s - pol"}, {"w": 2103.0, "a": 23, "t": "115 K"}]},
 "mark": {"type": "text", "align": "right", "baseline": "middle", "fontSize": 26, "color": "black"},
 "encoding": {"x": {"field": "w", "type": "quantitative", "axis": null}, "y": {"field": "a", "type": "quantitative"}, "text": {"field": "t"}}},
{"data": {"values": [{"w": 2136.4, "a": 623, "t": "hυ"}, {"w": 2132.5, "a": 590, "t": "[0001]"}]},
 "mark": {"type": "text", "align": "center", "baseline": "middle", "fontSize": 26, "color": "black"},
 "encoding": {"x": {"field": "w", "type": "quantitative", "axis": null}, "y": {"field": "a", "type": "quantitative"}, "text": {"field": "t"}}}
]
}
]
}
